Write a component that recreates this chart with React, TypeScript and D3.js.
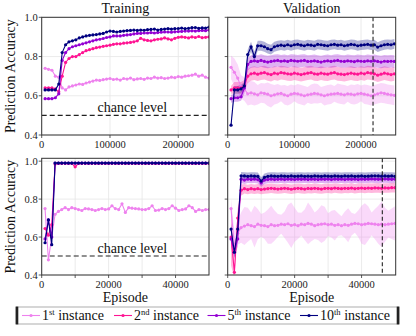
import React from 'react';
import * as d3 from 'd3';

// episodes at which each run was evaluated
const trainEpisodesTop = d3.range(5000, 245001, 5000);
const validEpisodesTop = d3.range(5000, 250001, 5000);
const episodesBottom = d3.range(1000, 50001, 1000);

const instanceLabels = ['1', '2', '5', '10'];
const instanceSuffix = ['st', 'nd', 'th', 'th'];
const instanceColors = ['#ee82ee', '#ff1493', '#9400d3', '#000080'];

// top row: training accuracy
const trainTop1 = [0.740, 0.735, 0.730, 0.700, 0.695, 0.640, 0.630, 0.645, 0.650, 0.655, 0.660, 0.658, 0.665, 0.670, 0.675, 0.680, 0.678, 0.682, 0.685, 0.688, 0.683, 0.685, 0.680, 0.688, 0.685, 0.690, 0.682, 0.686, 0.688, 0.684, 0.690, 0.688, 0.695, 0.690, 0.692, 0.688, 0.690, 0.695, 0.692, 0.698, 0.695, 0.700, 0.702, 0.705, 0.710, 0.700, 0.705, 0.695, 0.690];
const trainTop2 = [0.640, 0.640, 0.640, 0.635, 0.620, 0.700, 0.770, 0.790, 0.800, 0.800, 0.810, 0.820, 0.830, 0.835, 0.840, 0.845, 0.848, 0.852, 0.855, 0.858, 0.862, 0.865, 0.865, 0.868, 0.870, 0.872, 0.875, 0.880, 0.893, 0.885, 0.882, 0.880, 0.885, 0.888, 0.890, 0.895, 0.890, 0.885, 0.893, 0.898, 0.900, 0.898, 0.895, 0.900, 0.897, 0.902, 0.896, 0.898, 0.900];
const trainTop5 = [0.585, 0.585, 0.585, 0.590, 0.610, 0.780, 0.820, 0.840, 0.850, 0.855, 0.860, 0.865, 0.870, 0.875, 0.880, 0.885, 0.888, 0.892, 0.897, 0.900, 0.905, 0.905, 0.905, 0.908, 0.910, 0.912, 0.915, 0.918, 0.918, 0.920, 0.920, 0.922, 0.920, 0.922, 0.924, 0.925, 0.925, 0.924, 0.926, 0.927, 0.928, 0.930, 0.930, 0.931, 0.930, 0.932, 0.933, 0.932, 0.935];
const trainTop10 = [0.630, 0.630, 0.630, 0.630, 0.660, 0.820, 0.860, 0.875, 0.880, 0.885, 0.895, 0.900, 0.905, 0.908, 0.910, 0.912, 0.915, 0.918, 0.925, 0.930, 0.928, 0.925, 0.928, 0.930, 0.932, 0.933, 0.935, 0.933, 0.935, 0.934, 0.937, 0.938, 0.940, 0.935, 0.938, 0.940, 0.942, 0.940, 0.942, 0.943, 0.945, 0.942, 0.944, 0.947, 0.948, 0.944, 0.946, 0.945, 0.950];

// top row: validation accuracy (mean and spread)
const validTop1 = [0.745, 0.720, 0.690, 0.645, 0.635, 0.610, 0.615, 0.610, 0.605, 0.615, 0.612, 0.608, 0.600, 0.605, 0.610, 0.612, 0.605, 0.600, 0.608, 0.612, 0.610, 0.605, 0.600, 0.605, 0.608, 0.612, 0.610, 0.605, 0.600, 0.605, 0.608, 0.610, 0.612, 0.608, 0.605, 0.610, 0.608, 0.605, 0.610, 0.612, 0.608, 0.605, 0.600, 0.605, 0.610, 0.615, 0.612, 0.608, 0.605, 0.602];
const validTop2 = [0.630, 0.640, 0.640, 0.640, 0.650, 0.700, 0.712, 0.715, 0.710, 0.715, 0.718, 0.712, 0.708, 0.715, 0.712, 0.718, 0.715, 0.712, 0.710, 0.715, 0.712, 0.708, 0.712, 0.715, 0.718, 0.712, 0.710, 0.715, 0.712, 0.710, 0.715, 0.718, 0.712, 0.710, 0.708, 0.712, 0.715, 0.712, 0.710, 0.715, 0.712, 0.718, 0.715, 0.712, 0.705, 0.710, 0.715, 0.712, 0.708, 0.712];
const validTop5 = [0.585, 0.590, 0.590, 0.595, 0.640, 0.760, 0.775, 0.778, 0.775, 0.780, 0.775, 0.772, 0.775, 0.778, 0.780, 0.776, 0.778, 0.775, 0.780, 0.778, 0.776, 0.778, 0.780, 0.775, 0.776, 0.778, 0.775, 0.772, 0.776, 0.778, 0.775, 0.778, 0.780, 0.776, 0.775, 0.778, 0.776, 0.774, 0.778, 0.776, 0.775, 0.778, 0.776, 0.778, 0.775, 0.772, 0.776, 0.775, 0.776, 0.775];
const validTop10 = [0.450, 0.630, 0.630, 0.635, 0.650, 0.810, 0.850, 0.800, 0.855, 0.855, 0.850, 0.840, 0.835, 0.850, 0.855, 0.858, 0.855, 0.860, 0.855, 0.860, 0.862, 0.858, 0.855, 0.860, 0.858, 0.855, 0.862, 0.860, 0.857, 0.855, 0.860, 0.862, 0.858, 0.860, 0.855, 0.858, 0.862, 0.860, 0.855, 0.858, 0.860, 0.862, 0.858, 0.860, 0.848, 0.855, 0.860, 0.862, 0.860, 0.865];
const validTopStd1 = [0.06, 0.07, 0.07, 0.06, 0.06, 0.06, 0.06, 0.06, 0.05, 0.05, 0.05, 0.06, 0.06, 0.05, 0.05, 0.04, 0.05, 0.05, 0.05, 0.04, 0.05, 0.05, 0.05, 0.04, 0.05, 0.05, 0.05, 0.04, 0.05, 0.05, 0.05, 0.04, 0.05, 0.05, 0.05, 0.04, 0.05, 0.05, 0.05, 0.04, 0.05, 0.05, 0.05, 0.05, 0.05, 0.05, 0.05, 0.05, 0.05, 0.05];
const validTopStd2 = [0.02, 0.03, 0.03, 0.03, 0.03, 0.035, 0.035, 0.035, 0.035, 0.035, 0.035, 0.035, 0.035, 0.035, 0.035, 0.035, 0.035, 0.035, 0.035, 0.035, 0.035, 0.035, 0.035, 0.035, 0.035, 0.035, 0.035, 0.035, 0.035, 0.035, 0.035, 0.035, 0.035, 0.035, 0.035, 0.035, 0.035, 0.035, 0.035, 0.035, 0.035, 0.035, 0.035, 0.035, 0.035, 0.035, 0.035, 0.035, 0.035, 0.035];
const validTopStd5 = [0.02, 0.02, 0.02, 0.02, 0.03, 0.03, 0.032, 0.032, 0.032, 0.032, 0.032, 0.032, 0.032, 0.032, 0.032, 0.032, 0.032, 0.032, 0.032, 0.032, 0.032, 0.032, 0.032, 0.032, 0.032, 0.032, 0.032, 0.032, 0.032, 0.032, 0.032, 0.032, 0.032, 0.032, 0.032, 0.032, 0.032, 0.032, 0.032, 0.032, 0.032, 0.032, 0.032, 0.032, 0.032, 0.032, 0.032, 0.032, 0.032, 0.032];
const validTopStd10 = [0.01, 0.02, 0.02, 0.02, 0.02, 0.025, 0.025, 0.025, 0.025, 0.025, 0.025, 0.025, 0.025, 0.025, 0.025, 0.025, 0.025, 0.025, 0.025, 0.025, 0.025, 0.025, 0.025, 0.025, 0.025, 0.025, 0.025, 0.025, 0.025, 0.025, 0.025, 0.025, 0.025, 0.025, 0.025, 0.025, 0.025, 0.025, 0.025, 0.025, 0.025, 0.025, 0.025, 0.025, 0.025, 0.025, 0.025, 0.025, 0.025, 0.025];

// bottom row: training accuracy
const trainBot1 = [0.750, 0.480, 0.600, 0.720, 0.735, 0.745, 0.755, 0.745, 0.755, 0.750, 0.745, 0.740, 0.750, 0.748, 0.745, 0.740, 0.745, 0.750, 0.745, 0.748, 0.765, 0.750, 0.745, 0.775, 0.730, 0.755, 0.752, 0.750, 0.748, 0.745, 0.745, 0.750, 0.765, 0.740, 0.742, 0.750, 0.745, 0.750, 0.765, 0.752, 0.740, 0.745, 0.748, 0.765, 0.755, 0.735, 0.745, 0.740, 0.745, 0.745];
const trainBot2 = [0.645, 0.610, 0.665, 0.985, 0.988, 0.988, 0.988, 0.988, 0.988, 0.970, 0.988, 0.988, 0.988, 0.988, 0.988, 0.988, 0.988, 0.988, 0.988, 0.988, 0.988, 0.988, 0.988, 0.988, 0.988, 0.988, 0.988, 0.988, 0.988, 0.988, 0.988, 0.988, 0.988, 0.988, 0.988, 0.988, 0.988, 0.988, 0.988, 0.988, 0.988, 0.988, 0.988, 0.988, 0.988, 0.988, 0.988, 0.988, 0.988, 0.988];
const trainBot5 = [0.590, 0.690, 0.600, 0.990, 0.990, 0.990, 0.990, 0.990, 0.990, 0.990, 0.990, 0.990, 0.990, 0.990, 0.990, 0.990, 0.990, 0.990, 0.990, 0.990, 0.990, 0.990, 0.990, 0.990, 0.990, 0.990, 0.990, 0.990, 0.990, 0.990, 0.990, 0.990, 0.990, 0.990, 0.990, 0.990, 0.990, 0.990, 0.990, 0.990, 0.990, 0.990, 0.990, 0.990, 0.990, 0.990, 0.990, 0.990, 0.990, 0.990];
const trainBot10 = [0.570, 0.690, 0.560, 0.990, 0.990, 0.990, 0.990, 0.990, 0.990, 0.990, 0.990, 0.990, 0.990, 0.990, 0.990, 0.990, 0.990, 0.990, 0.990, 0.990, 0.990, 0.990, 0.990, 0.990, 0.990, 0.990, 0.990, 0.990, 0.990, 0.990, 0.990, 0.990, 0.990, 0.990, 0.990, 0.990, 0.990, 0.990, 0.990, 0.990, 0.990, 0.990, 0.990, 0.990, 0.990, 0.990, 0.990, 0.990, 0.990, 0.990];

// bottom row: validation accuracy (mean and spread)
const validBot1 = [0.750, 0.550, 0.620, 0.650, 0.658, 0.665, 0.660, 0.655, 0.668, 0.662, 0.660, 0.655, 0.665, 0.660, 0.662, 0.668, 0.665, 0.670, 0.662, 0.665, 0.660, 0.668, 0.665, 0.672, 0.668, 0.660, 0.665, 0.668, 0.670, 0.665, 0.668, 0.662, 0.665, 0.660, 0.665, 0.662, 0.668, 0.672, 0.670, 0.665, 0.668, 0.672, 0.670, 0.668, 0.665, 0.668, 0.665, 0.668, 0.670, 0.672];
const validBot2 = [0.600, 0.414, 0.700, 0.847, 0.855, 0.850, 0.855, 0.852, 0.855, 0.850, 0.853, 0.855, 0.857, 0.855, 0.853, 0.855, 0.857, 0.855, 0.852, 0.855, 0.857, 0.855, 0.853, 0.856, 0.855, 0.857, 0.855, 0.853, 0.856, 0.857, 0.855, 0.858, 0.856, 0.855, 0.857, 0.856, 0.858, 0.855, 0.857, 0.858, 0.856, 0.858, 0.857, 0.859, 0.858, 0.857, 0.859, 0.858, 0.860, 0.860];
const validBot5 = [0.590, 0.520, 0.590, 0.905, 0.900, 0.905, 0.903, 0.905, 0.902, 0.885, 0.900, 0.903, 0.905, 0.903, 0.904, 0.905, 0.903, 0.905, 0.904, 0.903, 0.905, 0.904, 0.905, 0.903, 0.905, 0.904, 0.903, 0.905, 0.904, 0.905, 0.903, 0.905, 0.904, 0.905, 0.903, 0.905, 0.904, 0.905, 0.903, 0.905, 0.904, 0.905, 0.906, 0.905, 0.904, 0.905, 0.906, 0.905, 0.904, 0.905];
const validBot10 = [0.642, 0.520, 0.642, 0.923, 0.922, 0.920, 0.922, 0.921, 0.920, 0.895, 0.915, 0.920, 0.922, 0.921, 0.920, 0.922, 0.921, 0.920, 0.922, 0.920, 0.921, 0.922, 0.920, 0.921, 0.920, 0.922, 0.921, 0.920, 0.922, 0.921, 0.920, 0.922, 0.921, 0.920, 0.922, 0.921, 0.922, 0.920, 0.921, 0.922, 0.920, 0.921, 0.922, 0.923, 0.922, 0.921, 0.922, 0.921, 0.922, 0.920];
const validBotStd1 = [0.05, 0.08, 0.06, 0.08, 0.10, 0.09, 0.07, 0.11, 0.08, 0.06, 0.07, 0.09, 0.10, 0.08, 0.06, 0.05, 0.07, 0.10, 0.12, 0.09, 0.07, 0.06, 0.08, 0.11, 0.09, 0.07, 0.08, 0.10, 0.09, 0.06, 0.07, 0.08, 0.06, 0.05, 0.07, 0.09, 0.06, 0.05, 0.07, 0.10, 0.11, 0.09, 0.06, 0.08, 0.10, 0.12, 0.09, 0.07, 0.08, 0.09];
const validBotStd2 = [0.15, 0.03, 0.05, 0.03, 0.025, 0.025, 0.025, 0.025, 0.025, 0.025, 0.025, 0.025, 0.025, 0.025, 0.025, 0.025, 0.025, 0.025, 0.025, 0.025, 0.025, 0.025, 0.025, 0.025, 0.025, 0.025, 0.025, 0.025, 0.025, 0.025, 0.025, 0.025, 0.025, 0.025, 0.025, 0.025, 0.025, 0.025, 0.025, 0.025, 0.025, 0.025, 0.025, 0.025, 0.025, 0.025, 0.025, 0.025, 0.025, 0.025];
const validBotStd5 = [0.04, 0.03, 0.04, 0.02, 0.02, 0.02, 0.02, 0.02, 0.02, 0.02, 0.02, 0.02, 0.02, 0.02, 0.02, 0.02, 0.02, 0.02, 0.02, 0.02, 0.02, 0.02, 0.02, 0.02, 0.02, 0.02, 0.02, 0.02, 0.02, 0.02, 0.02, 0.02, 0.02, 0.02, 0.02, 0.02, 0.02, 0.02, 0.02, 0.02, 0.02, 0.02, 0.02, 0.02, 0.02, 0.02, 0.02, 0.02, 0.02, 0.02];
const validBotStd10 = [0.03, 0.03, 0.03, 0.02, 0.02, 0.02, 0.02, 0.02, 0.02, 0.02, 0.02, 0.02, 0.02, 0.02, 0.02, 0.02, 0.02, 0.02, 0.02, 0.02, 0.02, 0.02, 0.02, 0.02, 0.02, 0.02, 0.02, 0.02, 0.02, 0.02, 0.02, 0.02, 0.02, 0.02, 0.02, 0.02, 0.02, 0.02, 0.02, 0.02, 0.02, 0.02, 0.02, 0.02, 0.02, 0.02, 0.02, 0.02, 0.02, 0.02];

const yTicks = [0.4, 0.6, 0.8, 1.0];
const xTicksTop = [0, 100000, 200000];
const xTicksBottom = [0, 10000, 20000, 30000, 40000];
const xTickLabelsBottom = [0, 20000, 40000];
const chanceLevel = 0.5;
const bestTop = 218000;
const bestBottom = 46200;

const FONT = "'Liberation Serif', 'Times New Roman', serif";

type Series = { y: number[]; std?: number[]; color: string };

type PanelProps = {
  left: number; right: number; top: number; bottom: number;
  xMax: number; yMax: number;
  episodes: number[];
  series: Series[];
  xTicks: number[]; xLabels: number[];
  showY: boolean;
  chance?: boolean;
  best?: number;
  title?: string;
  xlabel?: string;
};

const Panel = (p: PanelProps) => {
  const x = d3.scaleLinear().domain([0, p.xMax]).range([p.left, p.right]);
  const y = d3.scaleLinear().domain([0.4, p.yMax]).range([p.bottom, p.top]);
  const line = d3.line<number>().x((d, i) => x(p.episodes[i])).y(d => y(d));
  const cx = (p.left + p.right) / 2;
  const clipId = `clip-${p.left}-${p.top}`;

  return (
    <g>
      <clipPath id={clipId}>
        <rect x={p.left} y={p.top} width={p.right - p.left} height={p.bottom - p.top} />
      </clipPath>
      {p.xTicks.map(t => (
        <line key={'gx' + t} x1={x(t)} x2={x(t)} y1={p.top} y2={p.bottom} stroke="#e6e6e6" strokeWidth={0.8} />
      ))}
      {yTicks.map(t => (
        <line key={'gy' + t} x1={p.left} x2={p.right} y1={y(t)} y2={y(t)} stroke="#e6e6e6" strokeWidth={0.8} />
      ))}
      <g clipPath={`url(#${clipId})`}>
        {p.series.map((s, k) => s.std ? (
          <path key={'b' + k} fill={s.color} fillOpacity={0.3} stroke="none"
            d={d3.area<number>()
              .x((d, i) => x(p.episodes[i]))
              .y0((d, i) => y(d - s.std![i]))
              .y1((d, i) => y(d + s.std![i]))(s.y) || ''} />
        ) : null)}
        {p.chance && (
          <line x1={p.left} x2={p.right} y1={y(chanceLevel)} y2={y(chanceLevel)} stroke="#222" strokeWidth={1.2} strokeDasharray="5,3" />
        )}
        {p.series.map((s, k) => (
          <g key={'s' + k}>
            <path d={line(s.y) || ''} fill="none" stroke={s.color} strokeWidth={1.1} />
            {s.y.map((v, i) => (
              <circle key={i} cx={x(p.episodes[i])} cy={y(v)} r={1.6} fill={s.color} />
            ))}
          </g>
        ))}
        {p.best !== undefined && (
          <line x1={x(p.best)} x2={x(p.best)} y1={p.top} y2={p.bottom} stroke="#222" strokeWidth={1.1} strokeDasharray="4,2.5" />
        )}
      </g>
      {p.chance && (
        <text x={cx + 7} y={y(chanceLevel) - 3} fontSize={14} fontFamily={FONT} textAnchor="middle" fill="#111">chance level</text>
      )}
      <rect x={p.left} y={p.top} width={p.right - p.left} height={p.bottom - p.top} fill="none" stroke="#333" strokeWidth={1} />
      {p.xTicks.map(t => (
        <line key={'tx' + t} x1={x(t)} x2={x(t)} y1={p.bottom} y2={p.bottom + 3} stroke="#333" strokeWidth={0.8} />
      ))}
      {p.xLabels.map(t => (
        <text key={'lx' + t} x={x(t)} y={p.bottom + 13} fontSize={10.5} fontFamily={FONT} textAnchor="middle" fill="#222">{t}</text>
      ))}
      {yTicks.map(t => (
        <line key={'ty' + t} x1={p.left - 3} x2={p.left} y1={y(t)} y2={y(t)} stroke="#333" strokeWidth={0.8} />
      ))}
      {p.showY && yTicks.map(t => (
        <text key={'ly' + t} x={p.left - 4} y={y(t) + 3.5} fontSize={10.5} fontFamily={FONT} textAnchor="end" fill="#222">{d3.format('.1f')(t)}</text>
      ))}
      {p.showY && (
        <text transform={`translate(15,${(p.top + p.bottom) / 2}) rotate(-90)`} fontSize={14} fontFamily={FONT} textAnchor="middle" fill="#111">Prediction Accuracy</text>
      )}
      {p.title && (
        <text x={cx} y={13} fontSize={14} fontFamily={FONT} textAnchor="middle" fill="#111">{p.title}</text>
      )}
      {p.xlabel && (
        <text x={cx} y={p.bottom + 27} fontSize={14} fontFamily={FONT} textAnchor="middle" fill="#111">{p.xlabel}</text>
      )}
    </g>
  );
};

const Legend = () => {
  const starts = [22, 114, 207.5, 300];
  return (
    <g>
      <rect x={16} y={307} width={383} height={17} fill="#fff" stroke="#999" strokeWidth={0.8} />
      <rect x={15.7} y={306.6} width={2.6} height={17.8} fill="#222" />
      <rect x={396.7} y={306.6} width={2.6} height={17.8} fill="#222" />
      {instanceLabels.map((lab, i) => (
        <g key={lab}>
          <line x1={starts[i]} x2={starts[i] + 18} y1={315.5} y2={315.5} stroke={instanceColors[i]} strokeWidth={1.1} />
          <circle cx={starts[i] + 9} cy={315.5} r={1.6} fill={instanceColors[i]} />
          <text x={starts[i] + 20} y={320} fontSize={14} fontFamily={FONT} fill="#111">
            {lab}
            <tspan fontSize={8.5} dy={-5.5}>{instanceSuffix[i]}</tspan>
            <tspan dy={5.5}>{' instance'}</tspan>
          </text>
        </g>
      ))}
    </g>
  );
};

const series = (ys: number[][], stds?: number[][]): Series[] =>
  ys.map((y, i) => ({ y, std: stds ? stds[i] : undefined, color: instanceColors[i] }));

export default function App() {
  return (
    <svg width={416} height={336} style={{ position: 'fixed', left: 0, top: 0, background: '#fff' }}>
      <Panel left={41.7} right={209} top={17.3} bottom={135} xMax={245000} yMax={1.0}
        episodes={trainEpisodesTop}
        series={series([trainTop1, trainTop2, trainTop5, trainTop10])}
        xTicks={xTicksTop} xLabels={xTicksTop} showY chance title="Training" />
      <Panel left={227.7} right={395.7} top={17.3} bottom={135} xMax={252000} yMax={1.0}
        episodes={validEpisodesTop}
        series={series([validTop1, validTop2, validTop5, validTop10], [validTopStd1, validTopStd2, validTopStd5, validTopStd10])}
        xTicks={xTicksTop} xLabels={xTicksTop} showY={false} best={bestTop} title="Validation" />
      <Panel left={41.7} right={209} top={158.3} bottom={275} xMax={50000} yMax={1.015}
        episodes={episodesBottom}
        series={series([trainBot1, trainBot2, trainBot5, trainBot10])}
        xTicks={xTicksBottom} xLabels={xTickLabelsBottom} showY chance xlabel="Episode" />
      <Panel left={227.7} right={395.7} top={158.3} bottom={275} xMax={50200} yMax={1.015}
        episodes={episodesBottom}
        series={series([validBot1, validBot2, validBot5, validBot10], [validBotStd1, validBotStd2, validBotStd5, validBotStd10])}
        xTicks={xTicksBottom} xLabels={xTickLabelsBottom} showY={false} best={bestBottom} xlabel="Episode" />
      <Legend />
    </svg>
  );
}
